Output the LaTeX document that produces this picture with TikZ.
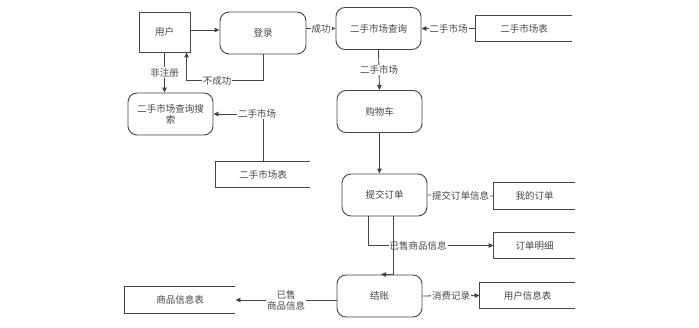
\documentclass[tikz,border=0pt]{standalone}
\usepackage{fontspec}
\usepackage{tikz}
\usetikzlibrary{arrows,arrows.meta}
\usetikzlibrary{calc}
\newfontfamily\cjk{Noto Sans CJK SC}
\definecolor{linie}{RGB}{70,70,70}

\tikzset{
  proc/.style={draw=linie, line width=0.9pt, rounded corners=9pt, minimum width=85pt, minimum height=42pt, font=\cjk\fontsize{9.5}{11}\selectfont, align=center},
  ent/.style={draw=linie, line width=0.9pt, minimum width=51pt, minimum height=40pt, font=\cjk\fontsize{9.5}{11}\selectfont},
  store/.style={minimum height=25pt, font=\cjk\fontsize{9.5}{11}\selectfont},
  lbl/.style={fill=white, inner sep=1pt, font=\cjk\fontsize{9.5}{11}\selectfont, align=center},
}

\begin{document}
\begin{tikzpicture}[x=1pt, y=-1pt, >={Triangle[length=5pt,width=4.5pt]}, linie, line width=0.9pt]

\useasboundingbox[fill=white] (0,0) rectangle (699,328);

% Prozesse
\node[ent]  (user)   at (164.5,32)  {用户};
\node[proc, minimum width=86pt] (login) at (263,33) {登录};
\node[proc] (query)  at (378.5,28.5) {二手市场查询};
\node[proc] (cart)   at (379.5,111.5) {购物车};
\node[proc] (search) at (170.5,114) {二手市场查询搜\\索};
\node[proc] (order)  at (384.5,195) {提交订单};
\node[proc] (pay)    at (379.5,296) {结账};

% Datenspeicher
\node[store, minimum width=96pt]  (mkt1)     at (524,28.5)  {二手市场表};
\node[store, minimum width=94pt]  (mkt2)     at (263,174.5) {二手市场表};
\node[store, minimum width=81pt, minimum height=26pt] (myorder)  at (534.5,196) {我的订单};
\node[store, minimum width=81pt]  (detail)   at (534.5,245.5) {订单明细};
\node[store, minimum width=95pt]  (userinfo) at (527.5,295.5) {用户信息表};
\node[store, minimum width=110pt, minimum height=26pt] (goods) at (180,300) {商品信息表};

\foreach \s in {mkt1,mkt2,myorder,detail,userinfo,goods}
  \draw (\s.north east) -- (\s.north west) -- (\s.south west) -- (\s.south east);

% Verbindungen
\draw[->] (user.east |- login.west) ++(0,-3) coordinate (u1) -- (u1 -| login.west);
\draw[->] (login.east |- query.west) -- node[lbl] (l1) {成功} (query.west);
\draw[->] (mkt1.west) -- node[lbl] (l2) {二手市场} (query.east);
\draw[->] (query.south) -- node[lbl] (l3) {二手市场} (cart.north);
\draw[->] (user.south) -- node[lbl] (l4) {非注册} (user.south |- search.north);
\draw[->] (login.south) -- ++(0,26) -| node[lbl, pos=0.3] (l5) {不成功} ($(user.south)+(22,0)$);
\draw[->] (mkt2.north) |- node[lbl, pos=0.56] (l6) {二手市场} (search.east);
\draw[->] (cart.south) -- (cart.south |- order.north);
\draw (order.east) -- node[lbl] (l7) {提交订单信息} (myorder.west);
\draw[->] ($(order.south)+(-16.5,0)$) |- node[lbl, pos=0.7] (l8) {已售商品信息} (detail.west);
\draw[->] ($(order.south)+(8.5,0)$) |- ($(pay.north)+(1.5,0)$);
\draw[->] (pay.east) -- node[lbl] (l9) {消费记录} (userinfo.west);
\draw[->] (pay.west |- goods.east) -- node[lbl] (l10) {已售\\商品信息} (goods.east);

\end{tikzpicture}
\end{document}
